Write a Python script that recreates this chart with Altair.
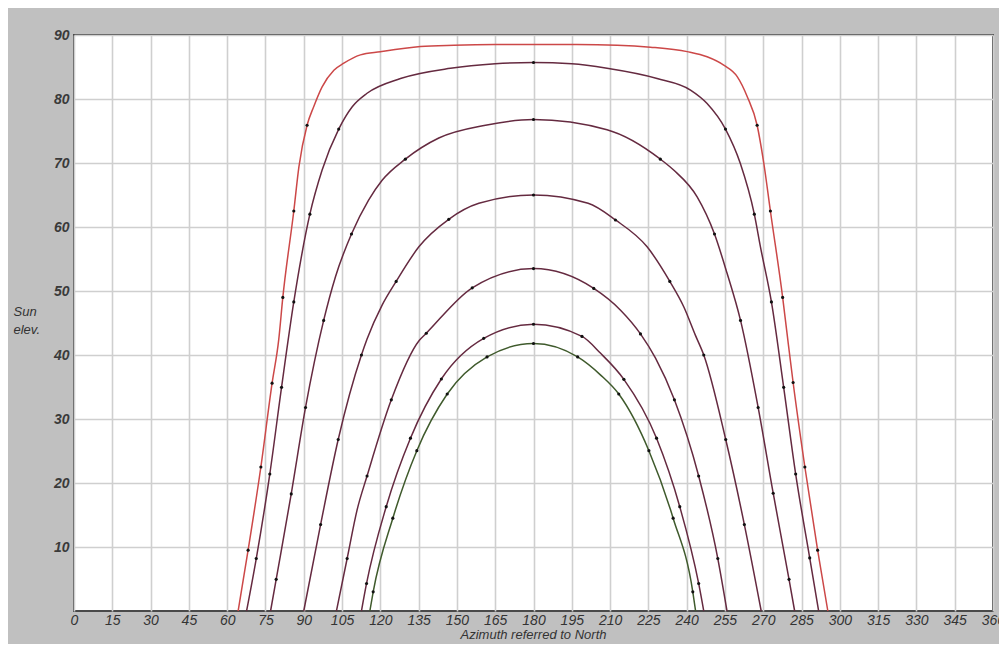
import altair as alt
import pandas as pd

# ---------------- data ----------------
AZ_TICKS = list(range(0, 361, 15))
EL_TICKS = list(range(10, 91, 10))

CURVES = ["c1", "c2", "c3", "c4", "c5", "c6", "c7"]
CURVE_COLORS = ["#cc4848", "#652a40", "#652a40", "#652a40", "#652a40", "#652a40", "#3f5a2c"]

# curve 1 (red, highest path)
c1_az = [64.3, 68.2, 73.2, 77.6, 80.2, 81.8, 86.1, 88.1, 91.3, 93.9, 97.2, 101.8, 105.7,
         112.2, 120.0, 135.7, 148.8, 165.0, 180.0, 197.0, 212.8, 225.8, 240.2, 248.0,
         254.5, 259.8, 263.7, 267.6, 270.2, 272.8, 277.6, 279.4, 281.7, 286.3, 291.3, 295.3]
c1_el = [0.0, 9.5, 22.5, 35.6, 42.4, 49.0, 62.5, 69.4, 75.9, 78.8, 81.9, 84.5, 85.6,
         86.9, 87.4, 88.2, 88.4, 88.5, 88.5, 88.5, 88.4, 88.1, 87.4, 86.6,
         85.3, 83.5, 80.4, 75.9, 70.0, 62.5, 49.0, 43.1, 35.7, 22.5, 9.5, 0.0]

c2_az = [67.6, 71.4, 76.7, 81.3, 86.1, 92.4, 97.2, 103.7, 109.0, 114.8, 127.9, 147.5, 165.0,
         180.0, 195.0, 208.8, 228.4, 241.5, 248.0, 255.2, 261.0, 266.5, 268.9, 273.2, 278.0,
         282.7, 288.2, 291.7]
c2_el = [0.0, 8.2, 21.4, 34.95, 48.3, 62.0, 68.9, 75.3, 78.8, 80.9, 83.2, 84.8, 85.5,
         85.7, 85.5, 84.8, 83.2, 81.4, 79.3, 75.3, 69.95, 62.0, 56.9, 48.3, 34.95,
         21.4, 8.3, 0.0]

c3_az = [77.0, 79.2, 85.1, 90.7, 97.8, 102.4, 108.7, 115.4, 120.7, 129.8, 142.9, 161.2, 180.0,
         208.8, 229.7, 234.9, 244.1, 250.9, 255.8, 261.1, 268.0, 273.9, 280.1, 282.3]
c3_el = [0.0, 4.95, 18.3, 31.8, 45.4, 52.2, 58.9, 64.2, 67.3, 70.6, 73.9, 75.9, 76.8,
         75.2, 70.6, 68.9, 64.7, 58.9, 52.8, 45.4, 31.8, 18.4, 4.95, 0.0]

c4_az = [90.0, 96.6, 103.5, 112.6, 114.8, 120.7, 126.2, 135.1, 146.8, 158.6, 180.0,
         201.4, 212.1, 224.5, 233.4, 238.9, 243.4, 246.7, 255.3, 262.6, 269.2]
c4_el = [0.0, 13.5, 26.8, 40.0, 42.5, 47.8, 51.5, 56.9, 61.2, 63.7, 65.0,
         63.7, 61.1, 56.9, 51.5, 47.5, 43.1, 40.0, 26.8, 13.5, 0.0]

c5_az = [102.8, 107.0, 110.9, 114.8, 124.3, 135.3, 138.0, 156.0, 180.0, 203.6, 214.1,
         221.9, 227.8, 235.2, 244.7, 252.2, 255.8]
c5_el = [0.0, 8.2, 15.8, 21.1, 33.0, 42.3, 43.4, 50.5, 53.5, 50.4, 47.0,
         43.3, 39.5, 33.0, 21.1, 8.2, 0.0]

c6_az = [112.6, 114.6, 122.3, 131.8, 143.9, 160.5, 180.0, 199.0, 206.2, 215.4, 228.2,
         237.3, 244.7, 246.7]
c6_el = [0.0, 4.3, 16.3, 27.0, 36.25, 42.6, 44.8, 42.9, 40.3, 36.2, 27.0,
         16.3, 4.3, 0.0]

# curve 7 (green, lowest path)
c7_az = [115.9, 117.2, 124.9, 134.3, 146.2, 161.8, 180.0, 197.3, 206.2, 213.4, 225.2,
         234.7, 242.4, 243.5]
c7_el = [0.0, 3.0, 14.5, 25.05, 33.9, 39.7, 41.8, 39.7, 36.9, 33.9, 25.05,
         14.5, 3.0, 0.0]

# hourly markers
d1_az = [68.2, 73.2, 77.6, 81.8, 86.1, 91.3, 267.6, 272.8, 277.6, 281.7, 286.3, 291.3]
d1_el = [9.5, 22.5, 35.6, 49.0, 62.5, 75.9, 75.9, 62.5, 49.0, 35.7, 22.5, 9.5]
d2_az = [71.4, 76.7, 81.3, 86.1, 92.4, 103.7, 180.0, 255.2, 266.5, 273.2, 278.0, 282.7, 288.2]
d2_el = [8.2, 21.4, 34.95, 48.3, 62.0, 75.3, 85.7, 75.3, 62.0, 48.3, 34.95, 21.4, 8.3]
d3_az = [79.2, 85.1, 90.7, 97.8, 108.7, 129.8, 180.0, 229.7, 250.9, 261.1, 268.0, 273.9, 280.1]
d3_el = [4.95, 18.3, 31.8, 45.4, 58.9, 70.6, 76.8, 70.6, 58.9, 45.4, 31.8, 18.4, 4.95]
d4_az = [96.6, 103.5, 112.6, 126.2, 146.8, 180.0, 212.1, 233.4, 246.7, 255.3, 262.6]
d4_el = [13.5, 26.8, 40.0, 51.5, 61.2, 65.0, 61.1, 51.5, 40.0, 26.8, 13.5]
d5_az = [107.0, 114.8, 124.3, 138.0, 156.0, 180.0, 203.6, 221.9, 235.2, 244.7, 252.2]
d5_el = [8.2, 21.1, 33.0, 43.4, 50.5, 53.5, 50.4, 43.3, 33.0, 21.1, 8.2]
d6_az = [114.6, 122.3, 131.8, 143.9, 160.5, 180.0, 199.0, 215.4, 228.2, 237.3, 244.7]
d6_el = [4.3, 16.3, 27.0, 36.25, 42.6, 44.8, 42.9, 36.2, 27.0, 16.3, 4.3]
d7_az = [117.2, 124.9, 134.3, 146.2, 161.8, 180.0, 197.3, 213.4, 225.2, 234.7, 242.4]
d7_el = [3.0, 14.5, 25.05, 33.9, 39.7, 41.8, 39.7, 33.9, 25.05, 14.5, 3.0]

# ---------------- tables ----------------
line_sets = [c1_az, c2_az, c3_az, c4_az, c5_az, c6_az, c7_az]
line_vals = [c1_el, c2_el, c3_el, c4_el, c5_el, c6_el, c7_el]
dot_sets = [d1_az, d2_az, d3_az, d4_az, d5_az, d6_az, d7_az]
dot_vals = [d1_el, d2_el, d3_el, d4_el, d5_el, d6_el, d7_el]

line_rows = []
for name, azs, els in zip(CURVES, line_sets, line_vals):
    for a, e in zip(azs, els):
        line_rows.append({"curve": name, "az": a, "el": e})
line_df = pd.DataFrame(line_rows)

dot_rows = []
for name, azs, els in zip(CURVES, dot_sets, dot_vals):
    for a, e in zip(azs, els):
        dot_rows.append({"curve": name, "az": a, "el": e})
dot_df = pd.DataFrame(dot_rows)

FONT = "Liberation Sans"

x_axis = alt.Axis(
    values=AZ_TICKS,
    tickCount=25,
    title="Azimuth referred to North",
    titleFont=FONT,
    titleFontStyle="italic",
    titleFontWeight="normal",
    titleFontSize=13,
    titleColor="#333333",
    titleX=459,
    titleY=23,
    titleBaseline="middle",
    titleAlign="center",
    labelFont=FONT,
    labelFontStyle="italic",
    labelFontSize=14,
    labelColor="#333333",
    labelPadding=2,
    labelFlush=False,
    labelOverlap=False,
    labelBound=False,
    ticks=False,
    domain=False,
    grid=True,
)

y_axis = alt.Axis(
    values=EL_TICKS,
    title=["Sun", "elev."],
    titleFont=FONT,
    titleFontStyle="italic",
    titleFontWeight="normal",
    titleFontSize=13,
    titleColor="#333333",
    titleAngle=0,
    titleAlign="left",
    titleBaseline="top",
    titleX=-61,
    titleY=270,
    titleLineHeight=18,
    labelFont=FONT,
    labelFontStyle="italic",
    labelFontWeight="bold",
    labelFontSize=14,
    labelColor="#3a3a3a",
    labelPadding=5,
    labelFlush=False,
    ticks=False,
    domain=False,
    grid=True,
)

x_scale = alt.Scale(domain=[0, 360], nice=False, zero=False)
y_scale = alt.Scale(domain=[0, 90], nice=False, zero=True)

color_enc = alt.Color(
    "curve:N",
    scale=alt.Scale(domain=CURVES, range=CURVE_COLORS),
    legend=None,
)

lines = alt.Chart(line_df).mark_line(
    interpolate="monotone", strokeWidth=1.5
).encode(
    x=alt.X("az:Q", scale=x_scale, axis=x_axis),
    y=alt.Y("el:Q", scale=y_scale, axis=y_axis),
    color=color_enc,
    order="az:Q",
)

dots = alt.Chart(dot_df).mark_circle(size=10, color="#111111", opacity=1).encode(
    x=alt.X("az:Q", scale=x_scale, axis=x_axis),
    y=alt.Y("el:Q", scale=y_scale, axis=y_axis),
)

chart = (
    alt.layer(lines, dots)
    .properties(
        width=919,
        height=576,
        background="#c0c0c0",
        padding={"left": 66, "top": 27, "right": 6, "bottom": 33},
        autosize=alt.AutoSizeParams(type="none"),
    )
    .configure_view(fill="white", stroke="#4a4a4a", strokeWidth=2)
    .configure_axis(gridColor="#cfcfcf", gridWidth=1.6, gridOpacity=1)
)

chart.save("out.html", embed_options={"renderer": "svg", "actions": False})
